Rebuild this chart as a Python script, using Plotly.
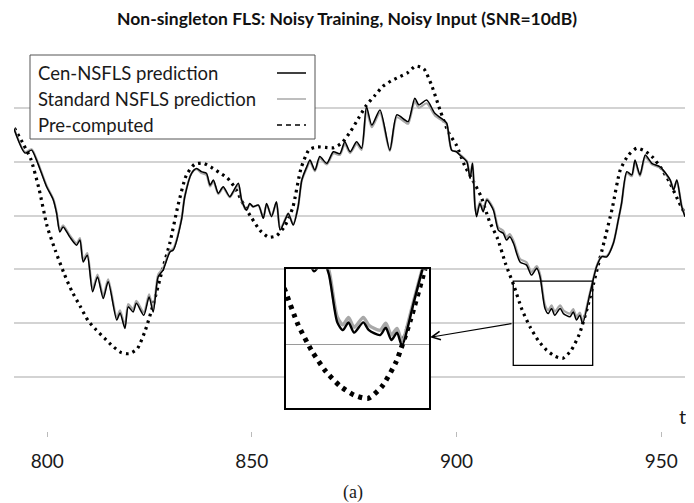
"""Non-singleton FLS prediction vs pre-computed series, with zoomed inset."""

import plotly.graph_objects as go

# ---- data ------------------------------------------------------------------
cen_t = [791.9, 794.6, 796.2, 797.4, 798.6, 799.9, 801.5, 802.3, 803.1, 803.9,
         805.5, 807.2, 808.0, 808.8, 809.8, 811.1, 812.3, 813.7, 814.9, 817.0,
         817.8, 819.0, 819.8, 821.0, 821.8, 823.6, 824.9, 825.9, 827.1, 828.3,
         830.0, 830.8, 832.8, 833.6, 835.3, 836.5, 837.7, 838.9, 839.8, 840.6,
         841.8, 843.0, 844.6, 845.4, 846.7, 847.5, 848.7, 849.5, 850.3, 851.6,
         852.8, 853.6, 854.8, 856.0, 856.9, 858.1, 858.9, 860.1, 861.3, 862.2,
         863.4, 864.2, 865.4, 866.6, 868.3, 869.9, 871.5, 872.7, 874.0, 875.6,
         876.8, 878.0, 879.3, 881.3, 883.7, 885.4, 887.4, 888.2, 889.8, 890.8,
         892.7, 894.7, 896.8, 897.6, 898.8, 900.0, 900.8, 902.5, 903.3, 903.9,
         904.5, 904.9, 905.7, 906.5, 907.4, 909.0, 910.2, 911.4, 912.2, 913.0,
         913.9, 915.5, 917.1, 918.3, 919.6, 920.4, 921.6, 922.4, 923.2, 924.0,
         925.3, 926.1, 927.7, 928.5, 929.3, 930.1, 930.8, 932.6, 934.2, 935.4,
         936.7, 938.3, 939.5, 940.3, 941.6, 942.8, 943.6, 944.8, 946.1, 947.7,
         949.7, 952.2, 953.0, 953.8, 955.0, 955.8]

cen_pred = [1.122, 1.032, 1.043, 1.006, 0.958, 0.906, 0.858, 0.809, 0.739, 0.758,
            0.721, 0.690, 0.709, 0.628, 0.653, 0.517, 0.572, 0.492, 0.554, 0.412,
            0.438, 0.381, 0.461, 0.442, 0.474, 0.430, 0.498, 0.442, 0.572, 0.597,
            0.665, 0.672, 0.783, 0.869, 0.958, 0.975, 0.963, 0.957, 0.913, 0.932,
            0.883, 0.907, 0.870, 0.888, 0.920, 0.858, 0.820, 0.845, 0.833, 0.839,
            0.790, 0.845, 0.796, 0.851, 0.746, 0.783, 0.808, 0.765, 0.833, 0.932,
            0.981, 1.006, 0.969, 1.019, 0.994, 1.037, 1.030, 1.074, 1.037, 1.074,
            1.050, 1.204, 1.136, 1.192, 1.043, 1.174, 1.155, 1.149, 1.236, 1.211,
            1.229, 1.180, 1.155, 1.143, 1.043, 1.037, 1.025, 1.000, 0.938, 0.994,
            0.833, 0.796, 0.845, 0.814, 0.858, 0.820, 0.746, 0.734, 0.709, 0.721,
            0.697, 0.628, 0.616, 0.579, 0.604, 0.572, 0.455, 0.436, 0.455, 0.430,
            0.455, 0.436, 0.424, 0.442, 0.412, 0.430, 0.399, 0.511, 0.610, 0.647,
            0.647, 0.697, 0.783, 0.845, 0.963, 0.951, 1.006, 0.951, 1.025, 0.994,
            0.981, 0.932, 0.895, 0.932, 0.833, 0.796]

std_pred = [1.124, 1.036, 1.046, 1.010, 0.962, 0.910, 0.862, 0.814, 0.745, 0.764,
            0.727, 0.697, 0.716, 0.636, 0.661, 0.526, 0.581, 0.502, 0.563, 0.422,
            0.448, 0.391, 0.471, 0.452, 0.483, 0.440, 0.507, 0.452, 0.580, 0.604,
            0.670, 0.677, 0.786, 0.871, 0.958, 0.972, 0.958, 0.951, 0.908, 0.927,
            0.880, 0.903, 0.868, 0.885, 0.915, 0.856, 0.820, 0.843, 0.833, 0.838,
            0.792, 0.843, 0.798, 0.848, 0.750, 0.785, 0.808, 0.768, 0.833, 0.930,
            0.976, 1.000, 0.965, 1.013, 0.990, 1.031, 1.025, 1.066, 1.032, 1.066,
            1.044, 1.192, 1.128, 1.182, 1.040, 1.165, 1.147, 1.141, 1.224, 1.200,
            1.217, 1.172, 1.150, 1.138, 1.043, 1.037, 1.027, 1.003, 0.945, 0.996,
            0.841, 0.805, 0.851, 0.822, 0.862, 0.826, 0.756, 0.744, 0.719, 0.731,
            0.707, 0.639, 0.627, 0.590, 0.612, 0.582, 0.468, 0.449, 0.467, 0.443,
            0.467, 0.448, 0.436, 0.453, 0.424, 0.440, 0.410, 0.515, 0.612, 0.648,
            0.650, 0.698, 0.783, 0.843, 0.958, 0.946, 1.000, 0.947, 1.018, 0.990,
            0.978, 0.930, 0.897, 0.930, 0.836, 0.800]

pre_t = list(range(792, 957, 2))
pre_computed = [1.125, 1.07, 1.01, 0.90, 0.76, 0.67, 0.59, 0.52, 0.465, 0.41,
                0.375, 0.345, 0.315, 0.292, 0.287, 0.305, 0.375, 0.475, 0.59, 0.70,
                0.84, 0.95, 0.99, 0.995, 0.98, 0.96, 0.94, 0.90, 0.84, 0.79,
                0.745, 0.72, 0.725, 0.76, 0.83, 0.975, 1.045, 1.055, 1.053, 1.052,
                1.07, 1.11, 1.16, 1.21, 1.245, 1.28, 1.30, 1.315, 1.33, 1.355,
                1.345, 1.28, 1.19, 1.11, 1.06, 0.985, 0.93, 0.87, 0.78, 0.715,
                0.62, 0.54, 0.45, 0.385, 0.335, 0.30, 0.278, 0.27, 0.30, 0.36,
                0.46, 0.58, 0.70, 0.825, 0.97, 1.025, 1.05, 1.04, 1.015, 0.975,
                0.925, 0.86, 0.80]

x_ticks = [800, 850, 900, 950]
zoom_t = [913.85, 933.25]
zoom_v = [0.244, 0.5565]

SANS = "Lato, 'Open Sans', sans-serif"
# page body has an 8px margin, so the figure is drawn 8px in from the corner
OFF = 8
W, H = 694 - OFF, 503 - OFF
PL, PR, PT, PB = 14, 685, 54, 431          # plot area in page pixels
PW, PH = PR - PL, PB - PT


def px(x):
    return (x - PL) / PW


def py(y):
    return (PB - y) / PH


fig = go.Figure()

for xa, ya, sw, bw, dw, dash in [("x", "y", 2.2, 1.5, 3.2, "2.6px,4.2px"),
                                 ("x2", "y2", 3.4, 2.4, 5.0, "4px,5px")]:
    fig.add_trace(go.Scatter(
        x=pre_t, y=pre_computed, name="Pre-computed", mode="lines",
        line=dict(color="black", width=dw, dash=dash, shape="spline", smoothing=0.6),
        xaxis=xa, yaxis=ya, showlegend=False, hoverinfo="skip",
    ))
    fig.add_trace(go.Scatter(
        x=cen_t, y=std_pred, name="Standard NSFLS prediction", mode="lines",
        line=dict(color="#a8a8a8", width=sw, shape="spline", smoothing=0.7),
        xaxis=xa, yaxis=ya, showlegend=False, hoverinfo="skip",
    ))
    fig.add_trace(go.Scatter(
        x=cen_t, y=cen_pred, name="Cen-NSFLS prediction", mode="lines",
        line=dict(color="black", width=bw, shape="spline", smoothing=0.7),
        xaxis=xa, yaxis=ya, showlegend=False, hoverinfo="skip",
    ))

# zoom rectangle on main plot
fig.add_shape(type="rect", xref="x", yref="y",
              x0=zoom_t[0], x1=zoom_t[1], y0=zoom_v[0], y1=zoom_v[1],
              line=dict(color="black", width=1.3), layer="above")

# arrow from zoom box to inset
fig.add_annotation(xref="paper", yref="paper", x=px(430), y=py(337.3),
                   ax=83, ay=-14, showarrow=True, arrowhead=5, arrowsize=1.4,
                   arrowwidth=1.2, arrowcolor="black", text="")

# custom legend (text left, sample right)
fig.add_shape(type="rect", xref="paper", yref="paper",
              x0=px(30), x1=px(315), y0=py(139), y1=py(55),
              fillcolor="white", line=dict(color="#555555", width=1), layer="above")
legend_rows = [("Cen-NSFLS prediction", 73, dict(color="black", width=1.5)),
               ("Standard NSFLS prediction", 99, dict(color="#a8a8a8", width=1.5)),
               ("Pre-computed", 125, dict(color="black", width=1.5, dash="5px,4px"))]
for label, row_y, ln in legend_rows:
    fig.add_annotation(xref="paper", yref="paper", x=px(36), y=py(row_y),
                       xanchor="left", yanchor="middle", showarrow=False,
                       text=label, font=dict(family=SANS, size=18.5, color="#1a1a1a"))
    fig.add_shape(type="line", xref="paper", yref="paper",
                  x0=px(277), x1=px(306), y0=py(row_y), y1=py(row_y),
                  line=ln, layer="above")

fig.add_annotation(xref="paper", yref="paper", x=px(682), y=py(416), text="t",
                   showarrow=False, xanchor="center", yanchor="middle",
                   font=dict(family=SANS, size=20, color="#1a1a1a"))
fig.add_annotation(xref="paper", yref="paper", x=px(353), y=py(492), text="(a)",
                   showarrow=False, xanchor="center", yanchor="middle",
                   font=dict(family="'Liberation Serif', serif", size=18, color="#1a1a1a"))

fig.update_layout(
    width=W, height=H,
    margin=dict(l=PL - OFF, r=694 - PR, t=PT - OFF, b=503 - PB),
    paper_bgcolor="white", plot_bgcolor="white",
    title=dict(text="<b>Non-singleton FLS: Noisy Training, Noisy Input (SNR=10dB)</b>",
               x=(347 - OFF) / W, xanchor="center", y=1 - (19 - OFF) / H,
               yanchor="middle", font=dict(family=SANS, size=17.5, color="#111111")),
    xaxis=dict(range=[791.9, 955.8], tickvals=x_ticks, showgrid=False,
               zeroline=False, showline=False, ticks="outside", ticklen=5,
               tickcolor="#bbbbbb", tickwidth=1, ticklabelstandoff=8,
               tickfont=dict(family=SANS, size=19, color="#1a1a1a")),
    yaxis=dict(range=[0, 1.4], dtick=0.2, showticklabels=False, ticks="",
               showgrid=True, gridcolor="#d3d3d3", gridwidth=1.5,
               zeroline=False, showline=False),
    xaxis2=dict(domain=[px(286), px(429.3)], anchor="y2",
                range=[914.3, 934.7], showticklabels=False, ticks="",
                showgrid=False, zeroline=False, showline=True, mirror=True,
                linecolor="black", linewidth=1.5),
    yaxis2=dict(domain=[py(408.3), py(269.3)], anchor="x2",
                range=[0.246, 0.584], tickvals=[0.4], showticklabels=False,
                ticks="", showgrid=True, gridcolor="#9a9a9a", gridwidth=1,
                zeroline=False, showline=True, mirror=True,
                linecolor="black", linewidth=1.5),
)

fig.write_html("out.html")
